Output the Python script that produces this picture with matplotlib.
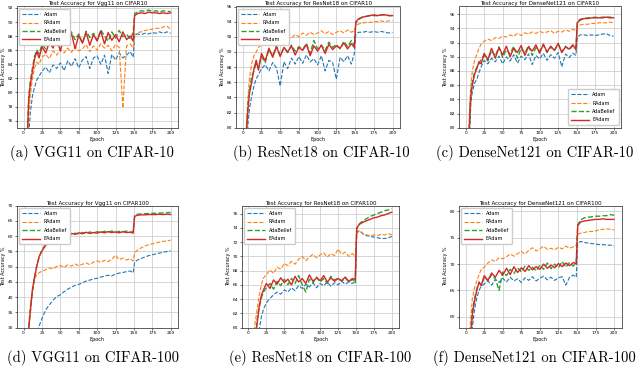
import matplotlib
matplotlib.use("Agg")
import matplotlib.pyplot as plt

# ---------------- data ----------------
epochs = [1, 3, 5, 7, 9, 12, 15, 18, 21, 25, 30, 35, 40, 45, 50, 55, 60, 65, 70, 75,
          80, 85, 90, 95, 100, 105, 110, 115, 120, 125, 130, 135, 140, 145, 149, 151,
          155, 160, 165, 170, 175, 180, 185, 190, 195, 200]

series_names = ["Adam", "RAdam", "AdaBelief", "EAdam"]

# (a) VGG11 CIFAR-10
a_adam = [50, 60, 68, 74, 77, 79.5, 80.8, 81.8, 82.3, 83.0, 83.6, 82.8, 83.9, 83.4, 84.2, 83.1, 84.5, 83.7, 84.8, 83.5,
          84.6, 85.1, 83.4, 84.9, 85.2, 84.0, 85.3, 82.7, 85.4, 84.6, 85.6, 84.9, 85.3, 85.8, 85.0, 88.1,
          88.3, 88.2, 88.4, 88.3, 88.5, 88.4, 88.6, 88.4, 88.6, 88.4]
a_radam = [55, 64, 71, 76.5, 79.5, 82, 83.5, 84.3, 84.0, 85.0, 85.4, 84.8, 85.9, 85.3, 86.1, 85.6, 86.3, 85.7, 86.5, 85.9,
           86.2, 86.8, 85.8, 86.6, 86.0, 86.9, 86.3, 86.7, 85.9, 86.8, 86.4, 77.8, 86.6, 86.9, 86.3, 88.2,
           88.5, 88.6, 88.8, 88.9, 89.0, 89.1, 89.1, 89.3, 89.4, 89.0]
a_adabelief = [60, 68, 74, 79.5, 81.5, 83.5, 85.2, 86.0, 85.5, 86.8, 86.2, 87.3, 86.9, 87.8, 86.7, 88.1, 87.2, 88.6, 87.5, 88.3,
               87.0, 88.7, 87.8, 88.4, 87.4, 88.9, 88.0, 87.3, 88.6, 87.7, 88.8, 87.9, 88.3, 87.6, 88.5, 91.2,
               91.4, 91.6, 91.5, 91.7, 91.5, 91.6, 91.4, 91.6, 91.5, 91.5]
a_eadam = [58, 67, 73.5, 79, 81, 83, 84.8, 85.8, 84.9, 86.5, 85.6, 87.1, 86.3, 87.6, 85.9, 87.9, 86.8, 88.4, 86.2, 88.1,
           87.0, 88.5, 86.7, 88.2, 87.3, 88.7, 86.9, 88.5, 87.4, 88.2, 87.2, 88.6, 87.5, 88.0, 87.3, 90.9,
           91.2, 91.3, 91.2, 91.4, 91.3, 91.3, 91.2, 91.3, 91.2, 91.3]

# (b) ResNet18 CIFAR-10
b_adam = [45, 65, 76, 80.5, 82.5, 84.2, 85.5, 86.5, 87.0, 87.8, 88.3, 87.5, 88.6, 87.9, 85.5, 88.7, 87.8, 89.2, 88.4, 89.4,
          88.5, 89.6, 88.7, 89.1, 88.3, 89.5, 87.5, 88.9, 88.6, 86.4, 89.3, 88.7, 89.5, 88.4, 89.8, 92.4,
          92.6, 92.6, 92.7, 92.6, 92.7, 92.6, 92.7, 92.6, 92.5, 92.6]
b_radam = [55, 72, 80.5, 84, 86.5, 88.5, 89.5, 90.0, 90.6, 90.9, 91.2, 91.0, 91.5, 91.3, 91.8, 91.6, 92.0, 91.8, 92.3, 92.0,
           92.5, 92.2, 92.6, 92.3, 92.5, 92.8, 92.4, 92.7, 92.3, 92.6, 92.8, 92.5, 92.9, 92.6, 92.8, 93.5,
           93.7, 93.8, 93.9, 93.9, 94.0, 94.0, 94.1, 94.0, 94.1, 94.1]
b_adabelief = [50, 70, 80, 83, 85, 86.8, 87.5, 88.6, 88.0, 89.4, 88.6, 90.3, 89.5, 90.8, 89.6, 90.5, 89.9, 90.9, 90.1, 90.7,
               90.3, 91.1, 89.8, 91.5, 90.4, 90.9, 90.2, 91.3, 90.6, 91.0, 90.4, 91.4, 90.7, 91.5, 90.9, 93.8,
               94.3, 94.6, 94.7, 94.8, 94.8, 94.8, 94.9, 94.9, 94.8, 94.8]
b_eadam = [48, 68, 79.5, 82.5, 84.5, 86, 87.8, 88.9, 87.6, 89.8, 88.8, 90.5, 89.3, 90.7, 89.4, 90.6, 90.0, 90.8, 89.6, 90.6,
           90.2, 91.0, 89.5, 90.8, 90.1, 90.9, 89.8, 91.0, 90.3, 90.8, 90.5, 91.2, 90.4, 91.1, 90.6, 94.0,
           94.4, 94.6, 94.7, 94.8, 94.9, 94.8, 94.9, 94.9, 94.8, 94.8]

# (c) DenseNet121 CIFAR-10
c_adam = [42, 64, 78, 83.5, 85.0, 86.3, 86.8, 87.8, 88.6, 89.5, 89.0, 89.8, 89.3, 90.1, 89.0, 90.0, 89.4, 90.3, 89.1, 90.1,
          89.6, 90.4, 88.9, 90.2, 89.7, 90.5, 89.5, 90.3, 89.8, 90.6, 88.6, 90.4, 89.9, 90.5, 90.2, 92.8,
          93.1, 93.1, 93.0, 93.1, 93.0, 93.1, 93.2, 93.3, 93.0, 92.9]
c_radam = [50, 70, 82, 86, 88, 89.5, 90.3, 91.2, 91.8, 92.2, 92.5, 92.3, 92.7, 92.6, 92.9, 92.8, 93.1, 92.9, 93.3, 93.0,
           93.4, 93.2, 93.5, 93.3, 93.6, 93.4, 93.5, 93.7, 93.3, 93.6, 93.5, 93.8, 93.6, 93.9, 93.7, 94.3,
           94.5, 94.6, 94.6, 94.7, 94.7, 94.8, 94.8, 94.8, 94.9, 94.8]
c_adabelief = [45, 68, 80.5, 85, 86.5, 87.8, 88.5, 89.0, 89.7, 90.2, 89.4, 90.9, 90.1, 91.4, 89.9, 91.0, 90.4, 91.5, 89.8, 91.2,
               90.5, 91.6, 90.2, 91.3, 90.8, 91.7, 90.6, 91.4, 90.9, 91.8, 90.7, 91.5, 91.0, 91.6, 91.2, 95.0,
               95.3, 95.4, 95.5, 95.5, 95.6, 95.5, 95.6, 95.6, 95.6, 95.5]
c_eadam = [44, 67, 80, 84.5, 86, 87.5, 88.3, 89.3, 89.0, 90.5, 89.6, 91.2, 89.8, 91.3, 90.3, 91.5, 90.0, 91.2, 90.6, 91.6,
           90.2, 91.4, 90.8, 91.7, 90.5, 91.8, 90.7, 91.5, 90.9, 91.9, 90.6, 91.4, 91.1, 91.7, 91.0, 94.8,
           95.2, 95.4, 95.4, 95.5, 95.5, 95.5, 95.5, 95.6, 95.5, 95.5]

# (d) VGG11 CIFAR-100
d_adam = [0, 5, 10, 14, 18, 22, 25, 28, 30.5, 33, 35.8, 37.5, 39, 40.2, 40.8, 41.8, 42.6, 43.3, 43.9, 44.2,
          44.7, 45.3, 45.6, 46.0, 46.2, 46.6, 46.9, 47.2, 47.0, 47.6, 47.9, 48.1, 48.4, 48.6, 48.0, 51.5,
          52.2, 52.7, 53.2, 53.6, 53.9, 54.2, 54.5, 54.7, 55.0, 55.2]
d_radam = [10, 18, 25, 31, 37, 42, 46, 47.5, 48.0, 48.5, 49.0, 49.6, 49.3, 50.1, 50.4, 49.8, 50.6, 50.2, 50.9, 50.3,
           50.8, 51.2, 50.7, 51.5, 51.9, 51.4, 52.1, 51.7, 52.4, 53.8, 52.3, 52.8, 52.2, 52.6, 51.9, 54.5,
           55.5, 56.2, 56.8, 57.2, 57.5, 57.8, 58.1, 58.3, 58.5, 58.7]
d_adabelief = [10, 15, 22, 30, 35, 42, 46.5, 50.5, 53, 55.5, 57.3, 58.5, 59.5, 60.0, 60.4, 60.2, 60.8, 60.5, 61.0, 60.7,
               61.2, 60.9, 61.4, 61.0, 61.5, 61.2, 61.6, 61.3, 61.7, 61.2, 61.6, 61.4, 61.7, 61.3, 61.5, 66.8,
               67.2, 67.3, 67.4, 67.4, 67.5, 67.5, 67.6, 67.6, 67.7, 67.8]
d_eadam = [10, 15, 22, 30, 35, 42.5, 46.8, 50.2, 53.3, 55.2, 57.0, 58.4, 59.3, 60.2, 60.1, 60.6, 60.4, 60.9, 60.6, 61.1,
           60.8, 61.3, 60.9, 61.2, 61.0, 61.4, 61.1, 61.5, 61.2, 61.4, 61.1, 61.5, 61.2, 61.3, 61.0, 66.5,
           66.9, 67.0, 67.0, 67.1, 67.1, 67.1, 67.2, 67.1, 67.2, 67.1]

# (e) ResNet18 CIFAR-100
e_adam = [35, 42, 47, 51, 54, 57, 59.7, 61.5, 62.6, 63.5, 64.1, 64.6, 65.0, 64.7, 65.3, 65.0, 65.6, 65.2, 65.9, 65.5,
          66.1, 65.7, 66.3, 65.6, 66.2, 65.9, 66.4, 65.8, 66.3, 66.0, 66.5, 66.1, 66.4, 66.2, 66.5, 73.4,
          73.6, 73.1, 72.9, 72.8, 72.7, 72.6, 72.5, 72.5, 72.6, 72.8]
e_radam = [45, 50, 55, 58, 60.5, 62.5, 64.5, 66.0, 67.0, 67.4, 68.1, 67.6, 68.5, 68.2, 69.0, 68.7, 69.3, 68.9, 69.6, 70.0,
           69.4, 69.9, 70.3, 69.8, 70.2, 70.5, 69.9, 70.4, 70.1, 71.0, 70.3, 70.6, 70.0, 70.4, 69.9, 73.2,
           73.6, 73.2, 73.0, 72.9, 73.0, 72.9, 73.1, 73.0, 73.2, 73.0]
e_adabelief = [40, 47, 52, 55, 58, 61, 62.8, 64.2, 65.0, 65.6, 66.2, 65.4, 66.5, 65.9, 66.8, 66.0, 66.9, 66.2, 67.3, 66.0,
               65.0, 66.8, 66.3, 67.1, 66.4, 66.9, 66.2, 67.2, 66.7, 66.9, 66.5, 67.0, 66.4, 66.8, 66.3, 73.9,
               74.6, 75.0, 75.3, 75.6, 75.8, 76.0, 76.2, 76.4, 76.5, 76.7]
e_eadam = [40, 46.5, 51.5, 55, 58, 60.5, 63.0, 64.5, 65.3, 66.2, 65.5, 66.7, 66.1, 67.0, 66.3, 66.8, 66.0, 67.2, 66.4, 66.9,
           66.2, 67.4, 66.5, 67.0, 66.6, 67.3, 66.4, 67.0, 66.5, 66.9, 66.6, 67.1, 66.5, 66.9, 66.7, 74.0,
           74.5, 74.8, 75.0, 75.2, 75.4, 75.5, 75.7, 75.8, 76.0, 76.2]

# (f) DenseNet121 CIFAR-100
f_adam = [34, 42, 48, 53, 58, 61.5, 63.5, 65.0, 65.8, 66.2, 66.8, 66.0, 67.1, 66.5, 67.3, 66.6, 67.5, 66.8, 67.2, 66.5,
          67.4, 66.9, 67.6, 66.8, 67.3, 67.7, 67.0, 67.5, 66.9, 67.4, 67.6, 66.0, 67.5, 67.9, 67.5, 74.0,
          74.3, 74.1, 74.0, 73.9, 73.8, 73.7, 73.7, 73.6, 73.6, 73.5]
f_radam = [40, 50, 56, 60, 63.5, 65.5, 66.8, 68.0, 69.0, 69.4, 70.2, 70.8, 70.5, 71.2, 71.0, 71.4, 71.9, 71.5, 72.0, 72.4,
           71.9, 72.6, 73.1, 72.5, 72.9, 73.4, 72.8, 73.0, 72.7, 73.2, 72.9, 73.4, 73.0, 73.3, 73.6, 75.6,
           75.9, 76.0, 76.2, 76.2, 76.3, 76.5, 76.6, 76.7, 76.6, 76.5]
f_adabelief = [38, 46, 52, 57, 61, 63.5, 65.3, 66.4, 66.0, 67.6, 66.8, 68.0, 67.2, 65.0, 68.5, 67.8, 69.0, 68.2, 69.3, 68.5,
               69.6, 68.8, 69.4, 68.7, 69.8, 69.0, 70.2, 69.1, 70.0, 69.3, 70.5, 69.4, 70.3, 69.6, 70.4, 77.5,
               78.4, 78.8, 78.9, 79.0, 79.1, 79.1, 79.2, 79.2, 79.4, 79.3]
f_eadam = [37, 45, 51, 56.5, 60.5, 63, 65.0, 66.6, 65.9, 67.8, 66.9, 68.3, 67.5, 68.8, 67.9, 69.2, 68.0, 69.5, 68.4, 69.3,
           68.6, 69.7, 68.9, 69.5, 69.0, 70.0, 69.2, 69.8, 69.3, 70.1, 69.5, 70.2, 69.7, 70.3, 70.0, 77.3,
           78.0, 78.2, 78.3, 78.4, 78.5, 78.5, 78.6, 78.5, 78.5, 78.5]

titles = ["Test Accuracy for Vgg11 on CIFAR10", "Test Accuracy for ResNet18 on CIFAR10",
          "Test Accuracy for DenseNet121 on CIFAR10", "Test Accuracy for Vgg11 on CIFAR100",
          "Test Accuracy for ResNet18 on CIFAR100", "Test Accuracy for DenseNet121 on CIFAR100"]
captions = ["(a) VGG11 on CIFAR-10", "(b) ResNet18 on CIFAR-10", "(c) DenseNet121 on CIFAR-10",
            "(d) VGG11 on CIFAR-100", "(e) ResNet18 on CIFAR-100", "(f) DenseNet121 on CIFAR-100"]
panel_data = [(a_adam, a_radam, a_adabelief, a_eadam), (b_adam, b_radam, b_adabelief, b_eadam),
              (c_adam, c_radam, c_adabelief, c_eadam), (d_adam, d_radam, d_adabelief, d_eadam),
              (e_adam, e_radam, e_adabelief, e_eadam), (f_adam, f_radam, f_adabelief, f_eadam)]
ylims = [(75, 92.2), (80, 96), (80, 97.1), (30, 70), (60, 77.1), (57.9, 81.1)]
yticks = [list(range(76, 93, 2)), list(range(80, 97, 2)), list(range(80, 97, 2)),
          list(range(30, 71, 5)), list(range(60, 77, 2)), list(range(60, 81, 5))]
legend_locs = ["upper left", "upper left", "lower right", "upper left", "upper left", "upper left"]

# ---------------- layout ----------------
W, H = 640, 371
fig = plt.figure(figsize=(W / 100, H / 100), dpi=100)
rects_px = [(17, 6.5, 178, 127.7), (236, 6.5, 400, 127.7), (459, 6.5, 621, 127.7),
            (17, 205.7, 178, 327.7), (242, 205.7, 399, 327.7), (459, 205.7, 621.5, 327.7)]
cap_pos = [(92, 153), (321, 153), (535, 153), (93, 358), (320, 358), (534, 358)]

colors = ["#1f77b4", "#ff7f0e", "#2ca02c", "#d62728"]
styles = ["--", "--", "--", "-"]
widths = [0.8, 0.8, 1.0, 1.0]

for i in range(6):
    x0, y0, x1, y1 = rects_px[i]
    ax = fig.add_axes([x0 / W, 1 - y1 / H, (x1 - x0) / W, (y1 - y0) / H])
    for s in range(4):
        ax.plot(epochs, panel_data[i][s], color=colors[s], ls=styles[s], lw=widths[s],
                label=series_names[s])
    ax.set_xlim(-9, 210)
    ax.set_ylim(*ylims[i])
    ax.set_xticks([0, 25, 50, 75, 100, 125, 150, 175, 200])
    ax.set_yticks(yticks[i])
    ax.grid(True, color="#d0d0d0", lw=0.6)
    ax.set_axisbelow(True)
    ax.tick_params(labelsize=3.2, length=1.5, width=0.4, pad=1.2)
    for sp in ax.spines.values():
        sp.set_linewidth(0.6)
        sp.set_color("#444444")
    ax.set_title(titles[i], fontsize=4, pad=0.8)
    ax.set_xlabel("Epoch", fontsize=3.5, labelpad=1)
    ax.set_ylabel("Test Accuracy %", fontsize=3.5, labelpad=1)
    ax.legend(loc=legend_locs[i], fontsize=3.5, handlelength=3.6, borderpad=0.6,
              labelspacing=0.7, framealpha=1, edgecolor="#cccccc", fancybox=True)
    fig.text(cap_pos[i][0] / W, 1 - cap_pos[i][1] / H, captions[i], family="cmr10",
             fontsize=10.5, ha="center", va="center")

fig.savefig("out.png", dpi=100)
